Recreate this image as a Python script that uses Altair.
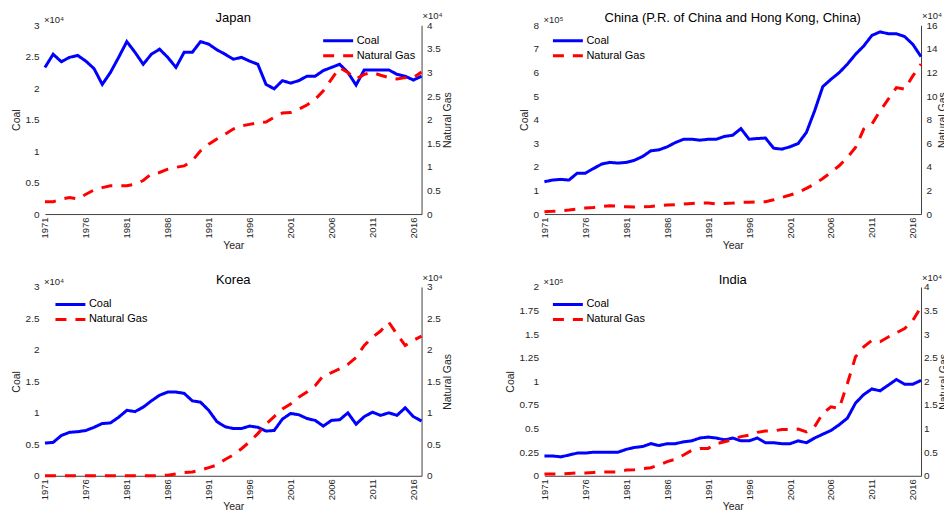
import altair as alt
import pandas as pd

years = list(range(1971, 2018))

# values in units of the axis exponent (x10^4 or x10^5)
japan_coal = [2.33, 2.54, 2.42, 2.49, 2.52, 2.43, 2.31, 2.06, 2.25, 2.49,
              2.74, 2.57, 2.38, 2.54, 2.62, 2.49, 2.33, 2.57, 2.57, 2.74,
              2.70, 2.61, 2.54, 2.46, 2.49, 2.43, 2.38, 2.06, 1.99, 2.12,
              2.08, 2.12, 2.19, 2.19, 2.28, 2.33, 2.38, 2.25, 2.05, 2.29,
              2.29, 2.29, 2.29, 2.22, 2.19, 2.13, 2.19]
japan_gas = [0.26, 0.26, 0.32, 0.35, 0.32, 0.42, 0.51, 0.56, 0.60, 0.60,
             0.60, 0.63, 0.71, 0.85, 0.88, 0.95, 0.99, 1.02, 1.13, 1.34,
             1.48, 1.59, 1.69, 1.80, 1.87, 1.90, 1.93, 1.95, 2.05, 2.14,
             2.15, 2.22, 2.31, 2.43, 2.61, 2.86, 3.10, 3.00, 2.86, 2.96,
             3.00, 2.94, 2.89, 2.86, 2.89, 2.89, 3.01]
china_coal = [1.37, 1.44, 1.47, 1.44, 1.73, 1.73, 1.93, 2.12, 2.19, 2.16,
              2.19, 2.28, 2.44, 2.68, 2.72, 2.85, 3.03, 3.17, 3.17, 3.13,
              3.17, 3.17, 3.29, 3.34, 3.62, 3.17, 3.20, 3.22, 2.79, 2.75,
              2.85, 2.99, 3.46, 4.37, 5.40, 5.71, 5.99, 6.35, 6.77, 7.12,
              7.57, 7.72, 7.64, 7.64, 7.52, 7.19, 6.67]
china_gas = [0.20, 0.23, 0.28, 0.34, 0.42, 0.51, 0.56, 0.65, 0.71, 0.65,
             0.62, 0.59, 0.62, 0.65, 0.71, 0.76, 0.79, 0.85, 0.90, 0.93,
             0.93, 0.87, 0.90, 0.93, 0.99, 0.99, 1.04, 1.04, 1.21, 1.41,
             1.61, 1.83, 2.17, 2.54, 3.02, 3.53, 4.09, 4.80, 5.64, 7.20,
             7.62, 8.75, 9.73, 10.72, 10.58, 11.71, 12.70]
korea_coal = [0.52, 0.53, 0.64, 0.69, 0.70, 0.72, 0.77, 0.83, 0.84, 0.93,
              1.04, 1.02, 1.09, 1.19, 1.28, 1.33, 1.33, 1.31, 1.19, 1.17,
              1.04, 0.86, 0.78, 0.75, 0.75, 0.79, 0.77, 0.71, 0.72, 0.90,
              0.99, 0.97, 0.91, 0.88, 0.79, 0.88, 0.89, 1.00, 0.82, 0.94,
              1.01, 0.96, 1.00, 0.96, 1.08, 0.94, 0.87]
korea_gas = [0.00, 0.00, 0.00, 0.00, 0.00, 0.00, 0.00, 0.00, 0.00, 0.00,
             0.00, 0.00, 0.00, 0.00, 0.00, 0.01, 0.03, 0.05, 0.06, 0.09,
             0.13, 0.17, 0.26, 0.33, 0.43, 0.54, 0.67, 0.82, 0.94, 1.06,
             1.14, 1.25, 1.33, 1.43, 1.59, 1.64, 1.70, 1.77, 1.88, 2.07,
             2.20, 2.30, 2.44, 2.25, 2.07, 2.15, 2.22]
india_coal = [0.21, 0.21, 0.20, 0.22, 0.24, 0.24, 0.25, 0.25, 0.25, 0.25,
              0.28, 0.30, 0.31, 0.34, 0.32, 0.34, 0.34, 0.36, 0.37, 0.40,
              0.41, 0.40, 0.38, 0.40, 0.37, 0.37, 0.40, 0.35, 0.35, 0.34,
              0.34, 0.37, 0.35, 0.40, 0.44, 0.48, 0.54, 0.61, 0.77, 0.86,
              0.92, 0.90, 0.96, 1.02, 0.97, 0.97, 1.01]
india_gas = [0.04, 0.04, 0.04, 0.05, 0.06, 0.06, 0.07, 0.08, 0.08, 0.08,
             0.12, 0.13, 0.15, 0.17, 0.23, 0.30, 0.35, 0.44, 0.54, 0.58,
             0.58, 0.68, 0.72, 0.77, 0.83, 0.86, 0.92, 0.95, 0.95, 0.98,
             0.98, 0.99, 0.93, 1.04, 1.32, 1.46, 1.43, 1.95, 2.52, 2.73,
             2.87, 2.84, 2.94, 3.03, 3.12, 3.29, 3.58]

x_ticks = list(range(1971, 2017, 5))
series_names = ["Coal", "Natural Gas"]

FONT = "Liberation Sans"
BLUE = "#0000FF"
RED = "#FF0000"
AXIS_GRAY = "#404040"
W, H = 377, 189
SUP = {4: "\u2074", 5: "\u2075"}


def panel(title, coal, gas, coal_exp, gas_exp, coal_ticks, gas_ticks, legend_x, legend_y,
          gas_title_x, gas_label_pad):
    cf, gf = 10 ** coal_exp, 10 ** gas_exp
    df_c = pd.DataFrame({"Year": years, "value": [v * cf for v in coal], "series": "Coal"})
    df_g = pd.DataFrame({"Year": years, "value": [v * gf for v in gas], "series": "Natural Gas"})

    leg = alt.Legend(orient="none", legendX=legend_x, legendY=legend_y, title=None,
                     symbolType="stroke", symbolSize=900, symbolStrokeWidth=3,
                     clipHeight=15, labelFont=FONT, labelFontSize=11, labelOffset=2,
                     labelColor="#000000", padding=0, rowPadding=0)
    color = alt.Color("series:N", scale=alt.Scale(domain=series_names, range=[BLUE, RED]), legend=leg)
    dash = alt.StrokeDash("series:N", scale=alt.Scale(domain=series_names, range=[[1, 0], [11, 9]]), legend=leg)

    x = alt.X("Year:Q", scale=alt.Scale(domain=[1971, 2017], nice=False, zero=False),
              axis=alt.Axis(values=x_ticks, format="d", labelAngle=270, title="Year",
                            ticks=False, grid=False, domainColor=AXIS_GRAY, labelPadding=3,
                            labelFontSize=9.5, titlePadding=2))

    coal_line = alt.Chart(df_c).mark_line(strokeWidth=3).encode(
        x=x,
        y=alt.Y("value:Q", scale=alt.Scale(domain=[coal_ticks[0] * cf, coal_ticks[-1] * cf], nice=False),
                axis=alt.Axis(orient="left", title="Coal", values=[t * cf for t in coal_ticks],
                              labelExpr=f"datum.value / {cf}", domain=False, ticks=False, grid=False,
                              labelPadding=6, titlePadding=3.5)),
        color=color, strokeDash=dash)
    gas_line = alt.Chart(df_g).mark_line(strokeWidth=3).encode(
        x=x,
        y=alt.Y("value:Q", scale=alt.Scale(domain=[gas_ticks[0] * gf, gas_ticks[-1] * gf], nice=False),
                axis=alt.Axis(orient="right", title="Natural Gas", values=[t * gf for t in gas_ticks],
                              labelExpr=f"datum.value / {gf}", domain=True, domainColor=AXIS_GRAY,
                              ticks=False, grid=False, labelPadding=gas_label_pad,
                              titleAngle=270, titleBaseline="top", titleX=gas_title_x,
                              titleY=H / 2, titleAlign="center")),
        color=color, strokeDash=dash)

    exp_left = alt.Chart(pd.DataFrame({"t": ["\u00d710" + SUP[coal_exp]]})).mark_text(
        align="left", baseline="alphabetic", font=FONT, fontSize=9.5, color="#262626"
    ).encode(text="t:N", x=alt.value(-1), y=alt.value(-2))
    exp_right = alt.Chart(pd.DataFrame({"t": ["\u00d710" + SUP[gas_exp]]})).mark_text(
        align="left", baseline="alphabetic", font=FONT, fontSize=9.5, color="#262626"
    ).encode(text="t:N", x=alt.value(W + 1), y=alt.value(-6))

    return alt.layer(coal_line, gas_line, exp_left, exp_right).resolve_scale(
        y="independent").properties(
        width=W, height=H,
        title=alt.TitleParams(title, anchor="middle", font=FONT, fontSize=13,
                              fontWeight="normal", offset=3, dy=17, color="#000000"))


def steps(top, step):
    n = int(round(top / step))
    return [round(i * step, 4) for i in range(n + 1)]


japan = panel("Japan", japan_coal, japan_gas, 4, 4, steps(3, 0.5), steps(4, 0.5), 277, 8, 21, 5)
china = panel("China (P.R. of China and Hong Kong, China)", china_coal, china_gas, 5, 4,
              steps(8, 1), steps(16, 2), 7, 8, 17, 5)
korea = panel("Korea", korea_coal, korea_gas, 4, 4, steps(3, 0.5), steps(3, 0.5), 9, 10, 21, 5)
india = panel("India", india_coal, india_gas, 5, 4, steps(2, 0.25), steps(4, 0.5), 7, 10, 18, 2.5)

chart = alt.concat(japan, china, korea, india, columns=2,
                   spacing={"row": 73, "column": 123}, bounds="flush").resolve_scale(
    color="independent", strokeDash="independent").resolve_legend(
    color="independent", strokeDash="independent").properties(
    padding={"left": 3, "top": 3, "right": -6, "bottom": 0}
).configure_view(stroke=None).configure_axis(
    labelFont=FONT, labelFontSize=10, labelColor="#262626",
    titleFont=FONT, titleFontSize=10.5, titleFontWeight="normal", titleColor="#262626"
)

chart.save("out.html", embed_options={"renderer": "svg", "actions": False})
